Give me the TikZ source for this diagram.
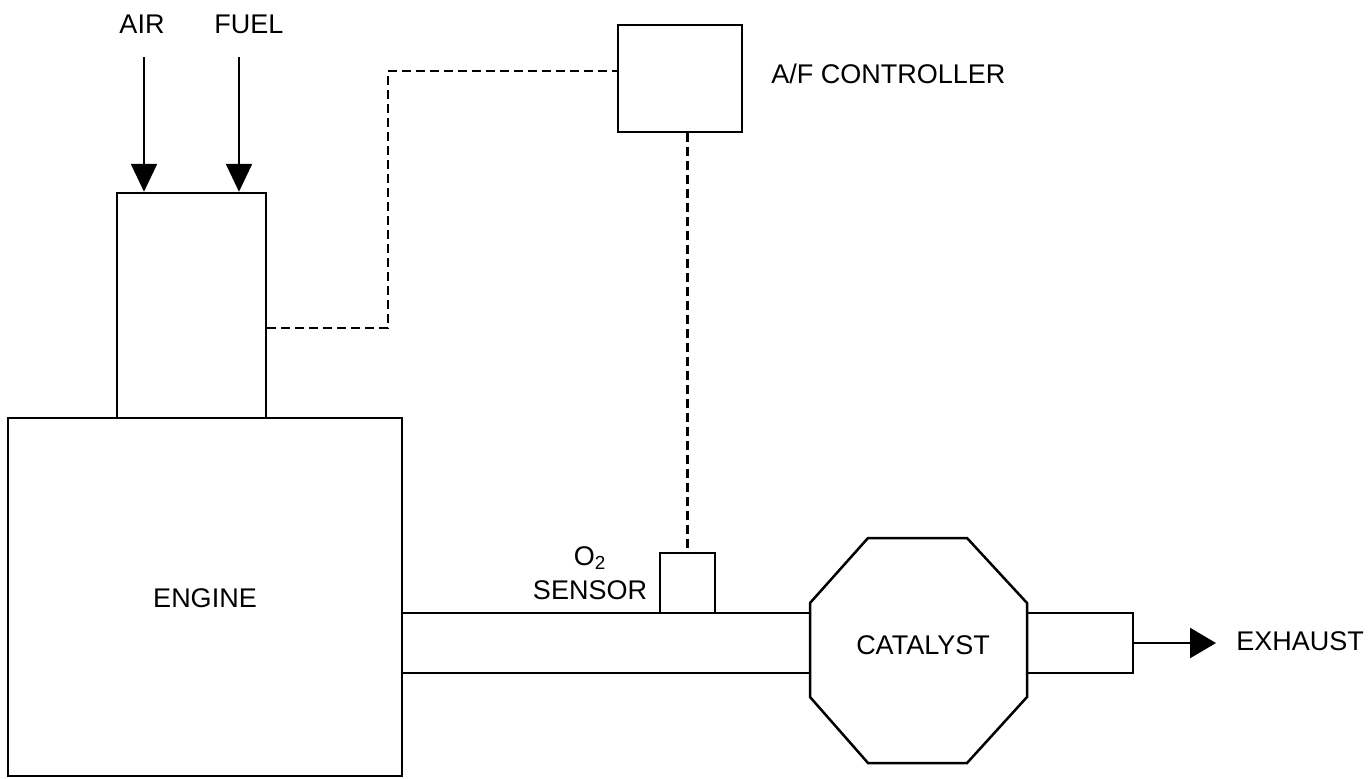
\documentclass[tikz,border=0pt]{standalone}
\usepackage{fontspec}
\setmainfont{Liberation Sans}
\usetikzlibrary{arrows.meta}
\tikzset{
  part/.style={draw, line width=1.25pt, inner sep=0pt, fill=none},
  lbl/.style={inner sep=0pt, font=\fontsize{13.5}{17}\selectfont},
  solidline/.style={line width=1.25pt},
  signal/.style={line width=1.1pt, dash pattern=on 4.5pt off 2.5pt},
  flow/.style={line width=1.25pt, -{Triangle[length=14pt,width=13pt]}},
}
\begin{document}
\begin{tikzpicture}[x=0.5pt, y=-0.5pt]
\useasboundingbox (0,0) rectangle (1368,778);
% boxes
\node[part, minimum width=197pt, minimum height=179pt] (engine) at (205,597) {};
\node[lbl] (enginelbl) at (205,598) {ENGINE};
\node[part, minimum width=74.5pt, minimum height=112.5pt] (intake) at (191.5,305.5) {};
\node[part, minimum width=62pt, minimum height=53.5pt] (ctrl) at (680,78.5) {};
\node[part, minimum width=27.5pt, minimum height=30pt] (sensor) at (687.5,583) {};
\node[part, minimum width=53pt, minimum height=30pt] (outlet) at (1080,643) {};
% catalyst octagon
\coordinate (cat) at (918.5,650.5);
\draw[solidline] (868,538) -- (967,538) -- (1027,603) -- (1027,697) -- (967,763)
  -- (868,763) -- (810,697) -- (810,603) -- cycle;
\node[lbl] (catlbl) at (923,645) {CATALYST};
% exhaust pipe between engine and catalyst
\coordinate (pipeTL) at (402,613);
\coordinate (pipeTR) at (810,613);
\coordinate (pipeBL) at (402,673);
\coordinate (pipeBR) at (810,673);
\draw[solidline] (pipeTL) -- (pipeTR);
\draw[solidline] (pipeBL) -- (pipeBR);
% inputs
\coordinate (airtop) at (144,57);
\coordinate (fueltop) at (239,57);
\draw[flow] (airtop) -- (airtop |- intake.north);
\draw[flow] (fueltop) -- (fueltop |- intake.north);
\node[lbl] (airlbl) at (142,24) {AIR};
\node[lbl] (fuellbl) at (249,24) {FUEL};
% exhaust arrow
\coordinate (exhtip) at (1216,643);
\draw[line width=1.25pt, -{Triangle[length=13pt,width=15pt]}] (outlet.east) -- (exhtip);
\node[lbl, anchor=west] (exhlbl) at (1236,641) {EXHAUST};
% signal lines
\coordinate (k1) at (388,328);
\coordinate (k2) at (388,71);
\draw[signal] (intake.east |- k1) -- (k1) -- (k2) -- (ctrl.west |- k2);
\draw[signal] (ctrl.south -| sensor.north) -- (sensor.north);
% labels
\node[lbl, anchor=west] (ctrllbl) at (771,74) {A/F CONTROLLER};
\node[lbl, align=center] (o2lbl) at (590,573) {O\textsubscript{2}\\SENSOR};
\end{tikzpicture}
\end{document}
